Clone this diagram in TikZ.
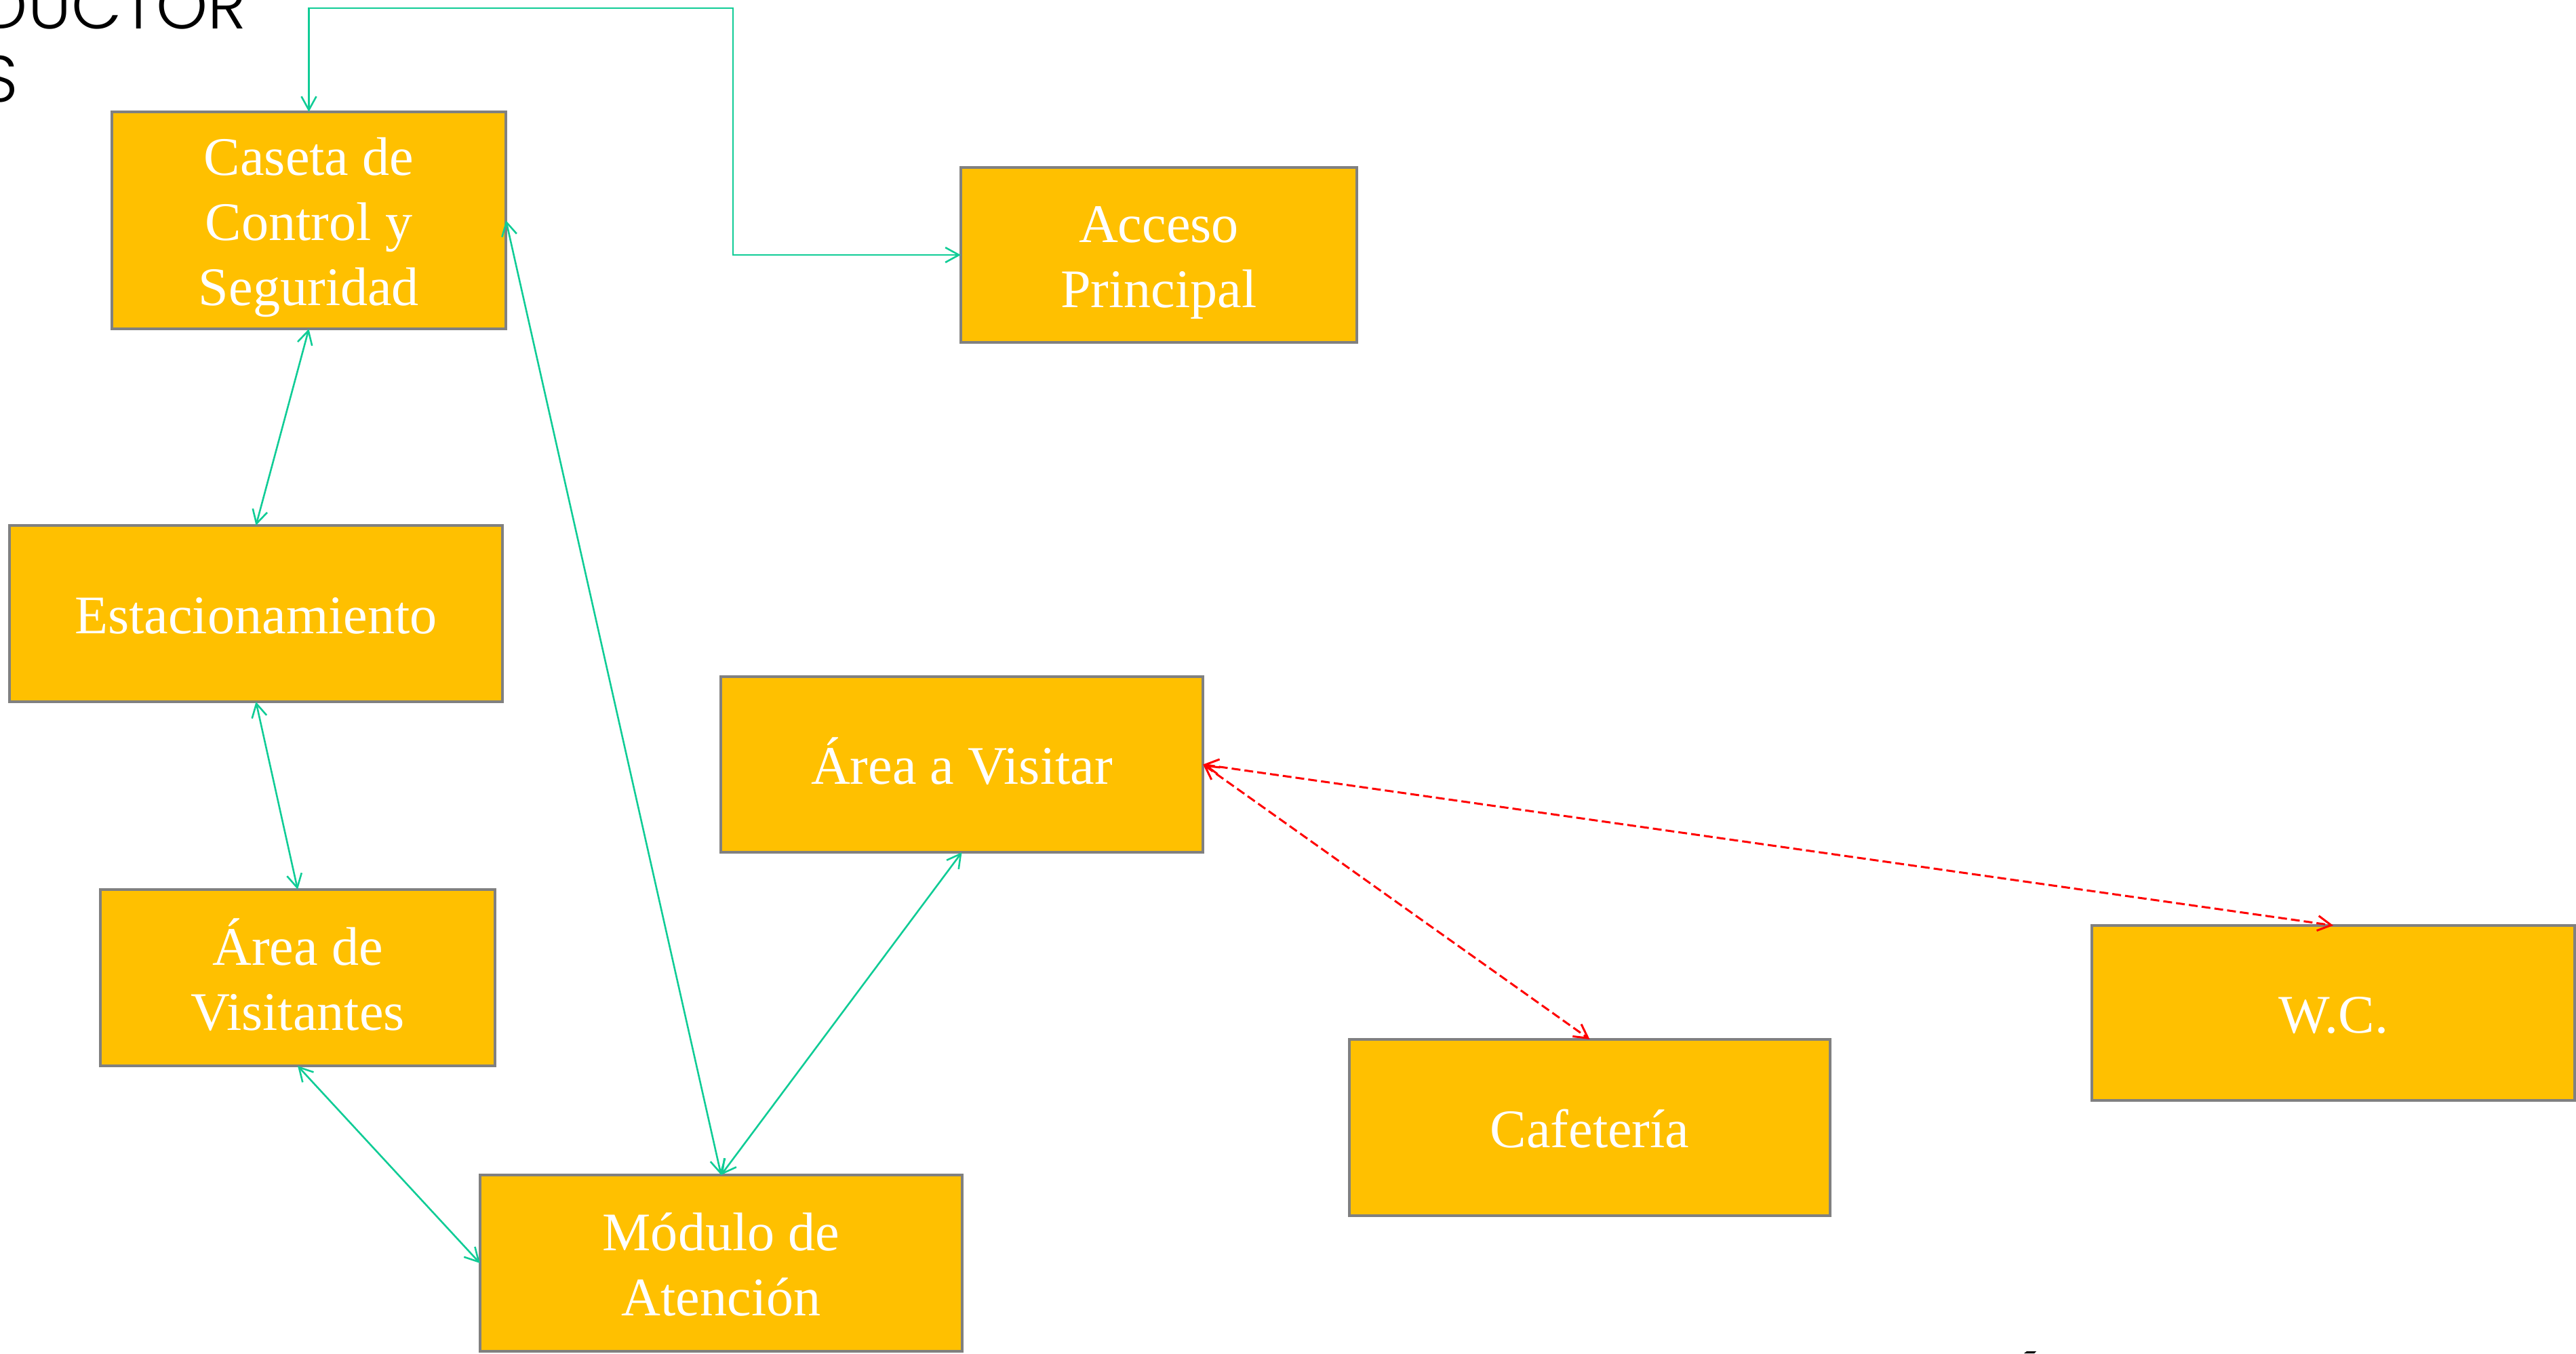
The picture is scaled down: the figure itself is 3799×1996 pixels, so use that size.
\documentclass[tikz,border=0pt]{standalone}
\usepackage{fontspec}
\setmainfont{Liberation Serif}
\newfontfamily\titlefont{Poppins}[UprightFont=* Light]
\usetikzlibrary{arrows.meta}
\definecolor{boxfill}{RGB}{255,192,0}
\definecolor{boxline}{RGB}{128,128,128}
\definecolor{gline}{RGB}{16,204,150}
\newcommand\lstrut{\rule[-0.18cm]{0pt}{0.94cm}}
\tikzset{
  area/.style={draw=boxline, fill=boxfill, line width=0.045cm, inner sep=0pt, outer sep=0pt,
    text=white, align=center, font=\fontsize{22.8pt}{27.3pt}\selectfont},
  gconn/.style={draw=gline, line width=0.026cm, {Straight Barb[length=0.2cm,width=0.22cm]}-{Straight Barb[length=0.2cm,width=0.22cm]}},
  rconn/.style={draw=red, line width=0.03cm, dash pattern=on 0.13cm off 0.06cm,
    {Straight Barb[length=0.2cm,width=0.22cm]}-{Straight Barb[length=0.2cm,width=0.22cm]}},
  ttl/.style={inner sep=0pt, outer sep=0pt, anchor=base east, font=\titlefont\fontsize{27.5pt}{33pt}\selectfont}
}
\begin{document}
\begin{tikzpicture}[x=0.01cm, y=-0.01cm]
\useasboundingbox (0,0) rectangle (3799,1996);
% title fragment
\node[ttl] (t1) at (363,42) {DUCTOR};
\node[ttl] (t2) at (27,150) {S};
% boxes
\node[area, minimum width=5.81cm, minimum height=3.20cm] (caseta) at (455.5,325) {\lstrut Caseta de\\\lstrut Control y\\\lstrut Seguridad};
\node[area, minimum width=5.84cm, minimum height=2.58cm] (acceso) at (1709,376) {\lstrut Acceso\\\lstrut Principal};
\node[area, minimum width=7.27cm, minimum height=2.60cm] (estac) at (377.5,905) {\lstrut Estacionamiento};
\node[area, minimum width=7.11cm, minimum height=2.59cm] (avisitar) at (1418.5,1127.5) {\lstrut Área a Visitar};
\node[area, minimum width=5.82cm, minimum height=2.60cm] (avisit) at (439,1442) {\lstrut Área de\\\lstrut Visitantes};
\node[area, minimum width=7.11cm, minimum height=2.60cm] (modulo) at (1063.5,1863) {\lstrut Módulo de\\\lstrut Atención};
\node[area, minimum width=7.09cm, minimum height=2.60cm] (cafe) at (2344.5,1663) {\lstrut Cafetería};
\node[area, minimum width=7.12cm, minimum height=2.58cm] (wc) at (3441,1494) {\lstrut W.C.};
% connectors
\coordinate (elbow) at (1081,12);
\draw[gconn] (acceso.west) -| (elbow) -| (caseta.north);
\draw[gconn] (caseta.south) -- (estac.north);
\draw[gconn] (estac.south) -- (avisit.north);
\draw[gconn] (avisit.south) -- (modulo.west);
\draw[gconn] (caseta.east) -- (modulo.north);
\draw[gconn] (modulo.north) -- (avisitar.south);
\draw[rconn] (avisitar.east) -- (cafe.north);
\draw[rconn] (avisitar.east) -- (wc.north);
% small cut-off mark at the bottom
\fill (2985,1996) -- (2989,1993) -- (3003,1993) -- (3000,1996) -- cycle;
\end{tikzpicture}
\end{document}
